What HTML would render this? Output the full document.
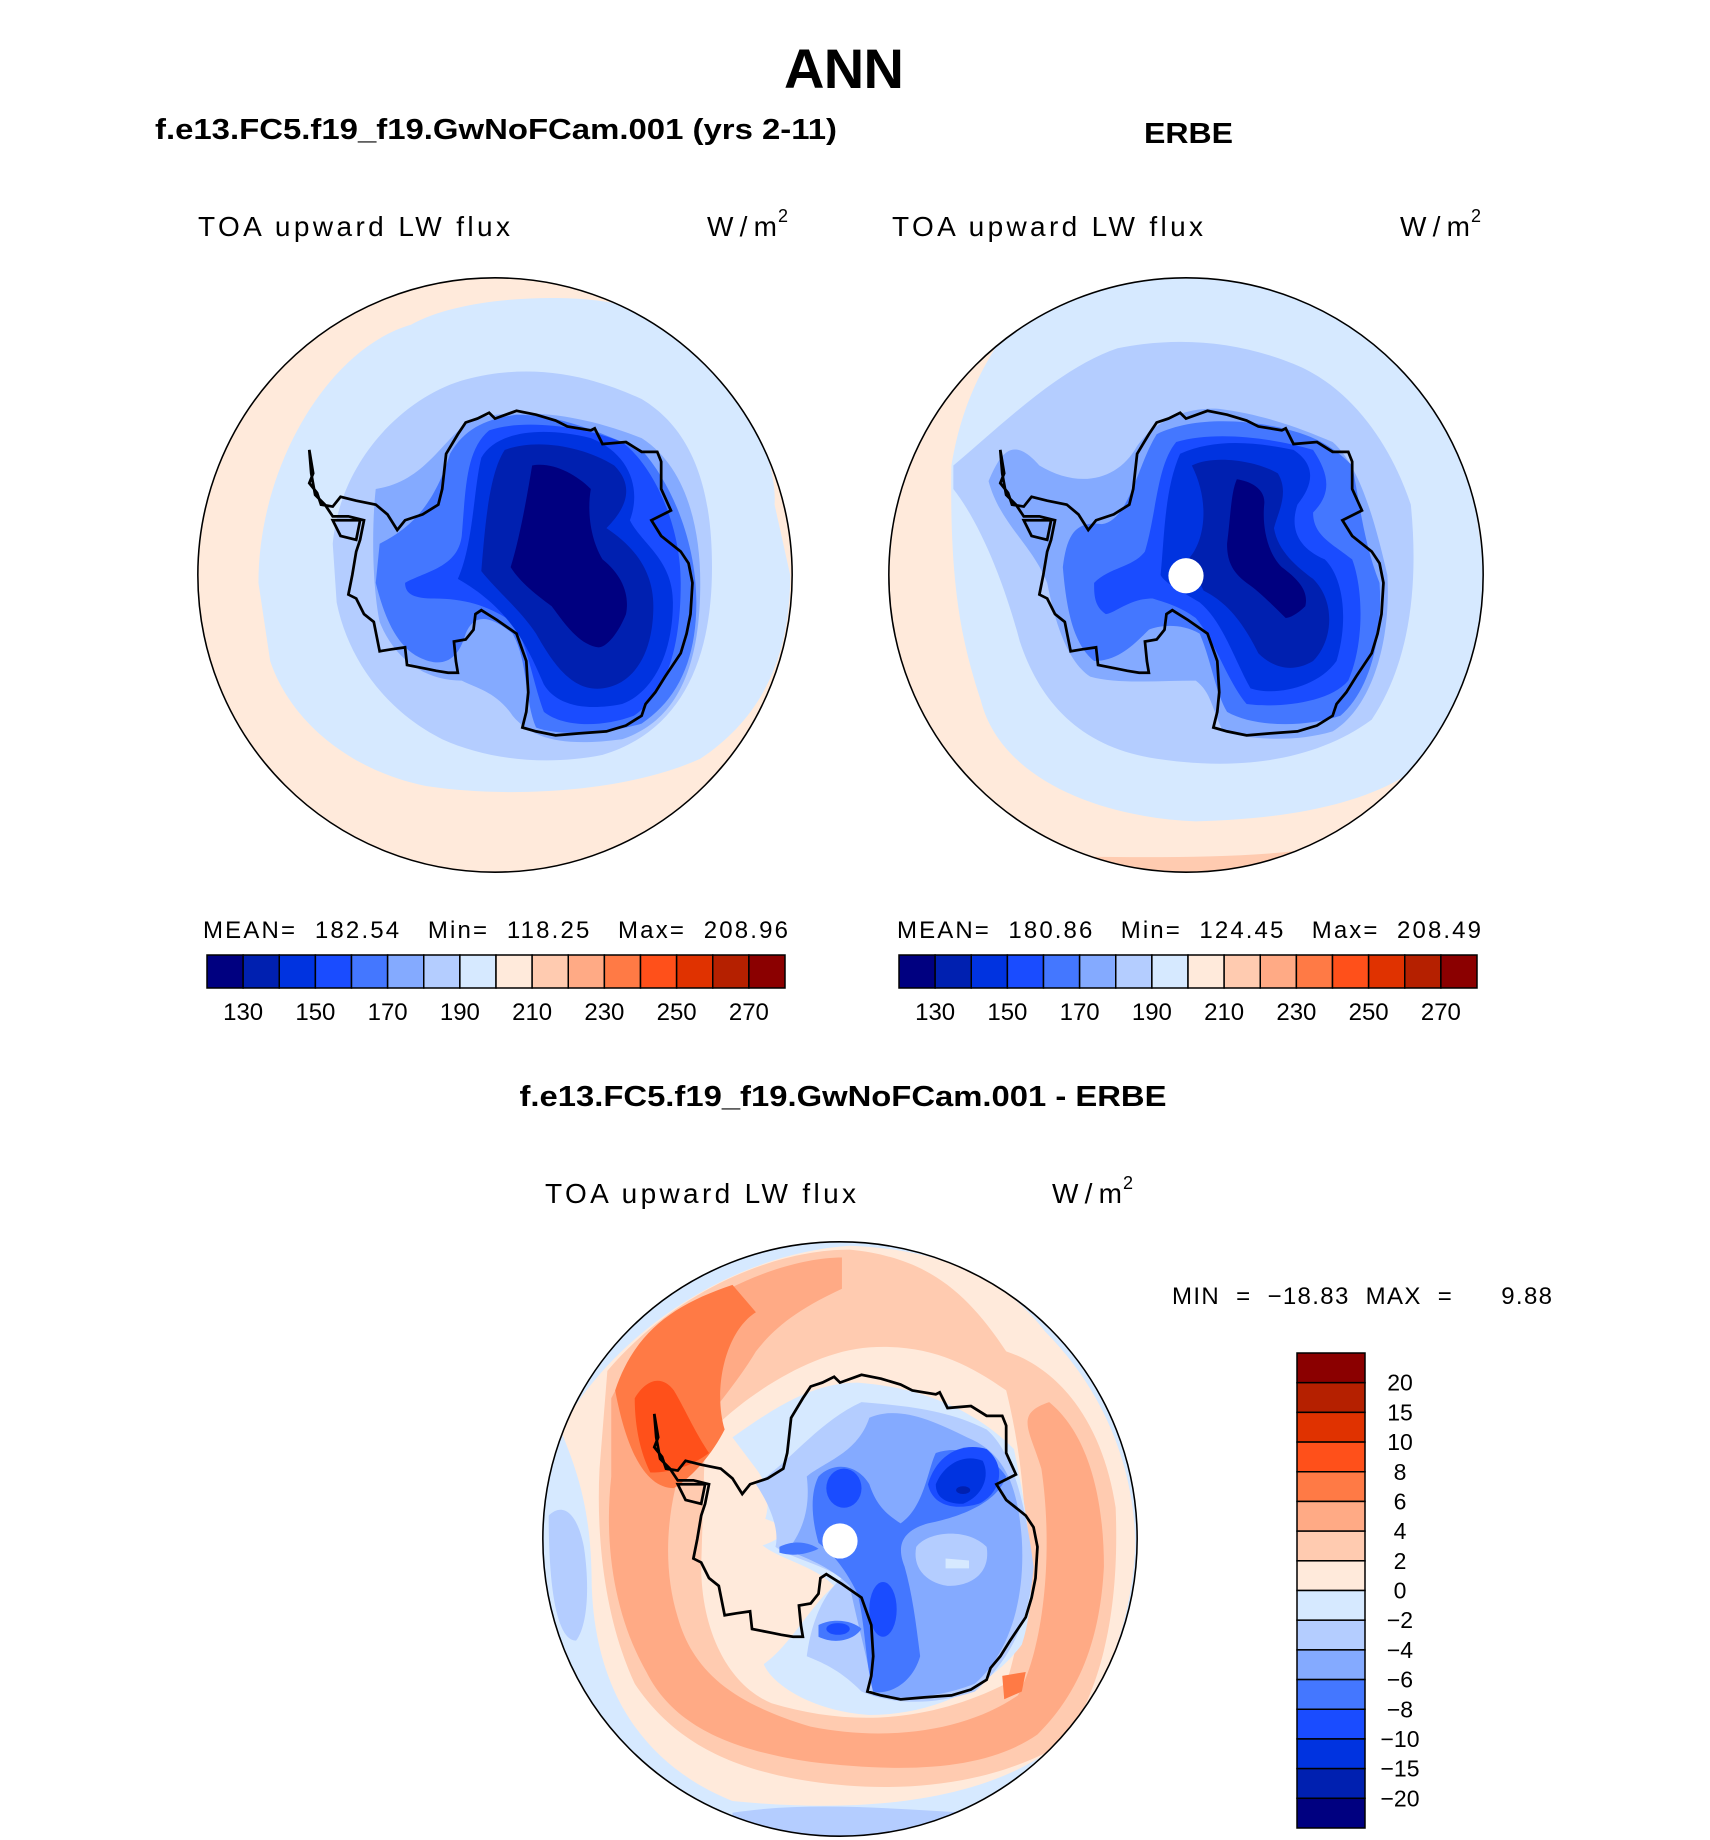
<!DOCTYPE html>
<html><head><meta charset="utf-8"><style>
html,body{margin:0;padding:0;background:#fff;}
svg{display:block;font-family:"Liberation Sans",Arial,sans-serif;}
.pre{white-space:pre;}
</style></head><body>
<svg id="fig" width="1710" height="1840" viewBox="0 0 1710 1840" xmlns="http://www.w3.org/2000/svg">
<defs>
<clipPath id="clipL"><circle cx="775" cy="780" r="760"/></clipPath>
<path id="coast" d="M300,460 L310,520 L300,545 L320,570 L330,600 L360,605 L380,580 L420,590 L470,600 L500,625 L525,665 L545,640 L590,625 L630,600 L640,560 L650,470 L680,420 L700,390 L730,380 L760,365 L775,380 L830,360 L880,370 L930,385 L960,400 L1020,410 L1030,405 L1050,445 L1110,440 L1150,465 L1190,465 L1200,490 L1200,560 L1225,615 L1175,640 L1200,680 L1250,720 L1270,750 L1280,800 L1275,880 L1265,930 L1250,980 L1210,1040 L1185,1080 L1160,1110 L1150,1140 L1110,1165 L1060,1180 L990,1185 L930,1190 L880,1180 L845,1170 L855,1130 L860,1080 L855,1000 L830,930 L780,895 L740,870 L725,880 L720,920 L700,945 L670,950 L675,1000 L680,1030 L655,1030 L625,1025 L600,1020 L550,1010 L545,965 L510,970 L480,975 L465,900 L440,880 L420,840 L400,830 L410,780 L420,720 L430,690 L440,640 L400,630 L360,630 L340,600 L315,575 L305,520 Z M360,640 L430,640 L420,690 L380,680 Z"/>
</defs>

<text x="844" y="88" font-size="56" font-weight="bold" text-anchor="middle" textLength="120">ANN</text>
<text x="155" y="139" font-size="29" font-weight="bold" textLength="682" lengthAdjust="spacingAndGlyphs">f.e13.FC5.f19_f19.GwNoFCam.001 (yrs 2-11)</text>
<text x="1144" y="143" font-size="29" font-weight="bold" textLength="89" lengthAdjust="spacingAndGlyphs">ERBE</text>

<text x="198" y="236" font-size="28" textLength="312">TOA upward LW flux</text>
<text x="707" y="236" font-size="28" textLength="70">W/m</text><text x="778" y="222" font-size="18">2</text>
<text x="892" y="236" font-size="28" textLength="311">TOA upward LW flux</text>
<text x="1400" y="236" font-size="28" textLength="70">W/m</text><text x="1471" y="222" font-size="18">2</text>

<!-- LEFT MAP -->
<g transform="translate(495,575) scale(0.391) translate(-775,-780)">
<g clip-path="url(#clipL)">
<circle cx="775" cy="780" r="760" fill="#ffeadb"/>
<path fill="#d6e9ff" d="M170,800 C170,500 350,200 560,140 C700,60 1000,60 1100,90 C1350,160 1500,450 1490,600 L1530,780 C1530,1000 1450,1150 1300,1250 C1100,1340 800,1350 600,1320 C400,1280 250,1150 200,1000 Z"/>
<path fill="#b4cdff" d="M360,700 C380,480 550,320 700,280 C850,240 1000,260 1150,330 C1300,420 1330,600 1330,760 C1330,1000 1250,1180 1050,1240 C900,1270 750,1250 640,1200 C500,1130 400,1000 370,850 Z"/>
<path fill="#84aaff" d="M470,560 C600,540 640,430 720,380 C850,350 1000,370 1150,430 C1260,500 1300,650 1300,800 C1300,1000 1250,1150 1100,1200 C950,1220 870,1200 820,1140 C780,1080 730,1070 690,1050 C600,1050 520,1000 480,900 C460,800 460,650 470,560 Z"/>
<path fill="#4477ff" d="M480,700 C560,660 620,600 660,470 C700,400 760,380 830,370 C950,370 1050,420 1150,460 C1230,550 1290,700 1290,850 C1290,1000 1240,1100 1150,1160 C1050,1190 930,1190 880,1170 C850,1100 860,1000 820,930 C760,880 720,880 700,930 C680,1000 640,1020 580,990 C520,960 490,880 470,800 Z"/>
<path fill="#1a4cff" d="M545,800 C600,770 680,760 690,680 C700,560 700,460 760,410 C850,380 1000,400 1100,440 C1180,500 1250,650 1250,800 C1250,950 1220,1080 1130,1140 C1050,1170 950,1170 900,1130 C870,1050 860,960 820,900 C760,860 700,840 620,840 C570,840 545,830 545,800 Z"/>
<path fill="#0033e0" d="M680,790 C720,700 720,560 740,480 C780,410 900,400 1020,430 C1120,470 1150,560 1120,640 C1150,700 1230,740 1230,850 C1230,980 1180,1080 1100,1110 C1000,1130 930,1110 900,1060 C860,970 820,870 680,790 Z"/>
<path fill="#0020b0" d="M740,770 C750,650 760,520 800,460 C880,430 1000,450 1080,500 C1140,560 1100,620 1060,660 C1120,700 1180,760 1180,860 C1180,980 1130,1060 1050,1070 C970,1080 920,1000 880,930 C840,870 780,820 740,770 Z"/>
<path fill="#000080" d="M815,760 C840,680 860,560 870,500 C920,490 980,520 1020,560 C1010,620 1020,690 1050,740 C1100,780 1120,830 1110,880 C1090,930 1060,965 1040,965 C990,960 950,900 920,860 C880,830 840,800 815,760 Z"/>
<use href="#coast" fill="none" stroke="#000" stroke-width="7"/>
</g>
<circle cx="775" cy="780" r="760" fill="none" stroke="#000" stroke-width="4"/>
</g>

<!-- RIGHT MAP -->
<g transform="translate(1186,575) scale(0.391) translate(-775,-780)">
<g clip-path="url(#clipL)">
<circle cx="775" cy="780" r="760" fill="#ffeadb"/>
<path fill="#ffcbb0" d="M400,1500 C600,1500 900,1510 1100,1480 L1100,1560 L400,1560 Z"/>
<path fill="#d6e9ff" d="M320,150 C500,40 700,20 780,20 C1100,20 1400,200 1500,500 L1540,780 C1540,900 1510,1050 1470,1150 C1400,1300 1200,1400 800,1410 C550,1400 300,1300 250,1100 C200,950 170,800 175,500 C200,350 250,250 320,150 Z"/>
<path fill="#b4cdff" d="M180,500 C300,400 450,250 600,200 C750,170 900,180 1050,240 C1200,300 1300,450 1350,600 C1370,800 1350,1000 1250,1150 C1100,1260 900,1280 700,1250 C500,1220 400,1100 350,950 C310,800 250,650 180,560 Z"/>
<path fill="#84aaff" d="M270,540 C300,470 330,420 400,500 C500,560 600,540 650,450 C700,380 780,350 860,355 C980,370 1080,410 1150,440 C1220,500 1260,650 1290,780 C1300,950 1250,1120 1150,1180 C1050,1210 930,1200 870,1180 C840,1120 840,1080 800,1050 C700,1050 600,1060 530,1040 C470,1000 440,900 420,800 C380,700 300,650 270,540 Z"/>
<path fill="#4477ff" d="M460,760 C470,680 490,640 560,650 C630,640 650,500 700,420 C780,380 900,380 1000,400 C1100,420 1150,450 1200,500 C1220,600 1230,700 1270,800 C1280,950 1240,1080 1170,1140 C1080,1170 950,1170 880,1130 C850,1080 840,1000 810,930 C760,900 700,910 680,920 C640,960 600,1000 540,1000 C490,960 470,880 460,760 Z"/>
<path fill="#1a4cff" d="M540,800 C580,760 640,760 670,720 C700,620 700,500 750,440 C850,410 1000,430 1100,460 C1140,520 1150,570 1100,620 C1100,680 1150,700 1200,740 C1230,820 1230,960 1190,1050 C1140,1110 1000,1120 930,1110 C880,1050 850,950 800,890 C760,860 720,850 690,840 C630,840 590,880 570,880 C540,860 540,830 540,800 Z"/>
<path fill="#0033e0" d="M710,780 C720,680 720,560 760,470 C850,430 950,440 1050,460 C1110,500 1100,550 1060,600 C1040,660 1060,710 1130,740 C1180,790 1190,900 1160,1000 C1110,1070 1000,1090 940,1070 C900,1000 870,900 810,850 C760,820 720,800 710,780 Z"/>
<path fill="#0020b0" d="M780,740 C820,700 840,600 790,500 C850,470 960,490 1010,520 C1040,570 1010,620 1000,660 C1010,720 1060,760 1100,790 C1160,850 1150,950 1100,1000 C1050,1030 1000,1020 960,980 C920,900 880,850 820,820 Z"/>
<path fill="#000080" d="M880,700 C890,620 890,570 905,535 C940,540 980,560 975,600 C970,650 980,720 1020,760 C1060,790 1090,820 1080,860 C1060,880 1040,890 1030,890 C1000,860 960,820 930,800 C890,770 880,740 880,700 Z"/>
<circle cx="775" cy="782" r="45" fill="#fff"/>
<use href="#coast" fill="none" stroke="#000" stroke-width="7"/>
</g>
<circle cx="775" cy="780" r="760" fill="none" stroke="#000" stroke-width="4"/>
</g>

<!-- stats -->
<text class="pre" x="203" y="938" font-size="24" textLength="585">MEAN=  182.54   Min=  118.25   Max=  208.96</text>
<text class="pre" x="897" y="938" font-size="24" textLength="584">MEAN=  180.86   Min=  124.45   Max=  208.49</text>
<g id="cbL"></g>
<g id="cbR"></g>

<text x="843" y="1106" font-size="29" font-weight="bold" text-anchor="middle" textLength="647" lengthAdjust="spacingAndGlyphs">f.e13.FC5.f19_f19.GwNoFCam.001 - ERBE</text>
<text x="545" y="1203" font-size="28" textLength="311">TOA upward LW flux</text>
<text x="1052" y="1203" font-size="28" textLength="70">W/m</text><text x="1123" y="1189" font-size="18">2</text>
<text class="pre" x="1172" y="1304" font-size="24" textLength="380">MIN  =  −18.83  MAX  =      9.88</text>

<!-- DIFF MAP -->
<g transform="translate(840,1539) scale(0.391) translate(-775,-780)">
<g clip-path="url(#clipL)">
<circle cx="775" cy="780" r="760" fill="#d6e9ff"/>
<path fill="#b4cdff" d="M30,720 C60,690 100,700 120,800 C135,900 130,1000 100,1040 C60,1040 30,950 30,720 Z"/>
<path fill="#b4cdff" d="M500,1480 C700,1450 900,1470 1100,1480 L1100,1560 L500,1560 Z"/>
<path fill="#ffeadb" d="M60,500 C200,250 500,50 800,30 C1050,40 1200,120 1300,250 C1450,400 1530,600 1530,800 C1520,1000 1450,1200 1300,1330 C1100,1460 800,1480 500,1450 C300,1370 150,1200 140,900 C140,700 100,600 60,500 Z"/>
<path fill="#ffcbb0" fill-rule="evenodd" d="M180,350 C350,150 600,40 800,40 C1000,60 1100,150 1200,300 C1350,350 1450,500 1480,700 C1490,950 1450,1150 1350,1300 C1150,1420 900,1430 700,1400 C500,1370 350,1300 250,1150 C180,1000 150,800 160,600 Z M430,520 C520,420 700,300 850,290 C1000,280 1100,330 1200,400 C1250,600 1280,900 1200,1150 C1000,1250 800,1260 600,1200 C480,1150 420,1000 420,850 Z"/>
<path fill="#ffaa85" fill-rule="evenodd" d="M190,420 C300,200 600,60 780,60 L780,140 C650,200 600,250 560,300 C500,400 420,480 380,560 C330,700 320,850 360,980 C400,1120 500,1200 700,1260 C900,1300 1100,1270 1230,1180 C1300,1050 1320,800 1290,600 C1260,500 1220,460 1310,430 C1420,520 1450,700 1450,850 C1440,1050 1380,1180 1280,1280 C1150,1370 950,1380 700,1350 C500,1320 350,1260 280,1120 C200,980 170,800 190,620 Z"/>
<path fill="#ff7a45" d="M200,400 C250,250 350,180 500,130 L560,200 C480,250 450,400 480,500 C450,560 400,620 350,650 C280,650 230,560 200,400 Z"/>
<path fill="#ff7a45" d="M1190,1130 L1250,1120 L1240,1170 L1195,1190 Z"/>
<path fill="#ff501a" d="M250,420 C280,370 320,360 350,400 C380,450 400,500 440,560 C400,590 350,610 290,610 C260,550 250,480 250,420 Z"/>
<path fill="#d6e9ff" d="M500,520 C600,450 700,380 820,380 C950,390 1100,430 1220,550 C1250,700 1290,900 1240,1050 C1150,1170 1000,1230 850,1230 C700,1220 600,1150 580,1100 C650,1050 700,950 760,900 C700,840 600,830 560,780 C600,720 600,650 560,600 Z"/>
<path fill="#ffeadb" d="M430,740 C500,700 600,720 640,760 C600,800 520,820 430,800 Z"/>
<path fill="#b4cdff" d="M560,640 C650,580 720,480 830,430 C950,440 1050,450 1150,500 C1220,560 1250,700 1270,850 C1260,1000 1200,1100 1120,1170 C1000,1210 900,1200 830,1170 C780,1120 740,1100 690,1080 C700,1000 730,920 780,880 C720,840 650,830 610,800 C620,760 600,700 560,640 Z"/>
<path fill="#84aaff" d="M690,620 C740,580 820,560 850,470 C920,440 1000,470 1100,520 C1200,560 1230,650 1240,780 C1250,950 1200,1080 1120,1150 C1020,1190 920,1190 860,1180 C850,1100 820,1000 800,900 C760,860 700,830 640,810 C680,760 700,700 690,620 Z"/>
<path fill="#b4cdff" d="M970,800 C1000,760 1100,750 1150,800 C1160,860 1120,900 1050,900 C990,890 960,850 970,800 Z"/>
<path fill="#d6e9ff" d="M1045,830 L1105,835 L1105,855 L1045,855 Z"/>
<path fill="#4477ff" d="M720,620 C760,580 820,590 850,640 C870,700 900,720 930,740 C990,700 1000,600 1020,560 C1080,540 1160,560 1200,620 C1180,680 1100,720 1000,740 C930,760 920,800 940,850 C960,920 970,1000 980,1080 C960,1150 900,1180 860,1170 C840,1100 840,1000 820,920 C790,860 760,820 720,790 C700,720 700,660 720,620 Z"/>
<path fill="#4477ff" d="M720,1000 C760,980 810,990 830,1010 C810,1040 760,1050 720,1030 Z"/>
<path fill="#4477ff" d="M620,800 C660,780 700,790 720,805 C690,820 650,825 620,815 Z"/>
<ellipse cx="785" cy="650" rx="45" ry="50" fill="#1a4cff"/>
<ellipse cx="885" cy="960" rx="35" ry="70" fill="#1a4cff"/>
<ellipse cx="770" cy="1010" rx="30" ry="15" fill="#1a4cff"/>
<path fill="#1a4cff" d="M1000,640 C1020,570 1080,530 1150,550 C1200,590 1190,660 1130,690 C1060,710 1010,690 1000,640 Z"/>
<path fill="#0033e0" d="M1020,640 C1040,590 1090,560 1140,580 C1160,620 1140,670 1090,690 C1040,690 1020,670 1020,640 Z"/>
<ellipse cx="1090" cy="655" rx="18" ry="10" fill="#0020b0"/>
<circle cx="775" cy="785" r="45" fill="#fff"/>
<use href="#coast" fill="none" stroke="#000" stroke-width="7"/>
</g>
<circle cx="775" cy="780" r="760" fill="none" stroke="#000" stroke-width="4"/>
</g>
<g id="cbV"></g>
</svg>
<script>
var absColors = ["#000080","#0020b0","#0033e0","#1a4cff","#4477ff","#84aaff","#b4cdff","#d6e9ff","#ffeadb","#ffcbb0","#ffaa85","#ff7a45","#ff501a","#e03200","#b52000","#8b0000"];
var absTickLabels = ["130","150","170","190","210","230","250","270"];
var absTickBoundaryIndex = [1,3,5,7,9,11,13,15];
var diffLevels = ["20","15","10","8","6","4","2","0","−2","−4","−6","−8","−10","−15","−20"];
var NS = "http://www.w3.org/2000/svg";
function hbar(gid, x0, x1, y0, y1) {
  var g = document.getElementById(gid);
  var n = absColors.length, w = (x1 - x0) / n;
  for (var i = 0; i < n; i++) {
    var r = document.createElementNS(NS, "rect");
    r.setAttribute("x", x0 + i * w); r.setAttribute("y", y0);
    r.setAttribute("width", w); r.setAttribute("height", y1 - y0);
    r.setAttribute("fill", absColors[i]); r.setAttribute("stroke", "#000"); r.setAttribute("stroke-width", "1.5");
    
    
    g.appendChild(r);
  }
  for (var j = 0; j < absTickLabels.length; j++) {
    var t = document.createElementNS(NS, "text");
    t.setAttribute("x", x0 + absTickBoundaryIndex[j] * w); t.setAttribute("y", y1 + 32);
    t.setAttribute("font-size", "24"); t.setAttribute("text-anchor", "middle");
    t.textContent = absTickLabels[j];
    
    
    g.appendChild(t);
  }
}
hbar("cbL", 207, 785, 955, 988);
hbar("cbR", 899, 1477, 955, 988);
(function(){
  var g = document.getElementById("cbV");
  var x0 = 1297, x1 = 1365, y0 = 1353, y1 = 1828;
  var n = absColors.length, h = (y1 - y0) / n;
  for (var i = 0; i < n; i++) {
    var r = document.createElementNS(NS, "rect");
    r.setAttribute("x", x0); r.setAttribute("y", y0 + i * h);
    r.setAttribute("width", x1 - x0); r.setAttribute("height", h);
    r.setAttribute("fill", absColors[n - 1 - i]); r.setAttribute("stroke", "#000"); r.setAttribute("stroke-width", "1.5");
    
    
    g.appendChild(r);
  }
  for (var j = 0; j < diffLevels.length; j++) {
    var t = document.createElementNS(NS, "text");
    t.setAttribute("x", 1400); t.setAttribute("y", y0 + (j + 1) * h + 8);
    t.setAttribute("font-size", "23"); t.setAttribute("text-anchor", "middle");
    t.textContent = diffLevels[j];
    
    
    g.appendChild(t);
  }
})();
</script>
</body></html>
